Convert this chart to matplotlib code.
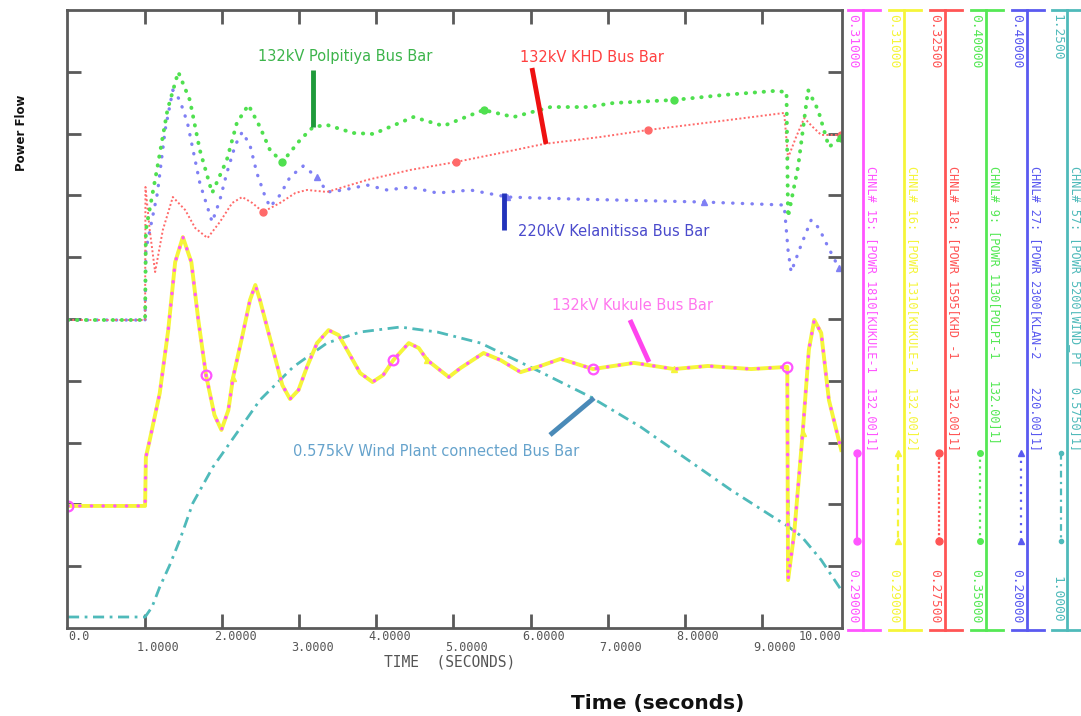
import numpy as np
import matplotlib.pyplot as plt

# channel traces: time (s) and power (pu)
t_kuk = [0.0, 1.0, 1.01, 1.06, 1.19, 1.30, 1.39, 1.49, 1.60, 1.69, 1.79, 1.90, 1.99, 2.08, 2.14,
         2.27, 2.36, 2.43, 2.49, 2.66, 2.78, 2.88, 2.99, 3.10, 3.23, 3.38, 3.51, 3.62, 3.79, 3.95,
         4.09, 4.22, 4.42, 4.55, 4.66, 4.94, 5.09, 5.39, 5.61, 5.87, 6.13, 6.39, 6.81, 7.34, 7.86,
         8.30, 8.86, 9.33, 9.34, 9.42, 9.53, 9.61, 9.68, 9.77, 9.87, 10.03]
p_kuk = [0.29395, 0.29395, 0.29553, 0.29608, 0.29760, 0.29964, 0.30184, 0.30265, 0.30184, 0.29997,
         0.29819, 0.29689, 0.29641, 0.29705, 0.29809, 0.29955, 0.30061, 0.30110, 0.30061, 0.29900,
         0.29786, 0.29741, 0.29770, 0.29845, 0.29922, 0.29964, 0.29948, 0.29900, 0.29825, 0.29796,
         0.29819, 0.29867, 0.29922, 0.29906, 0.29867, 0.29812, 0.29841, 0.29890, 0.29867, 0.29828,
         0.29848, 0.29871, 0.29838, 0.29858, 0.29838, 0.29848, 0.29838, 0.29845, 0.29155, 0.29307,
         0.29631, 0.29900, 0.29997, 0.29955, 0.29738, 0.29576]

t_pol = [0.0, 1.0, 1.01, 1.16, 1.29, 1.43, 1.58, 1.71, 1.87, 2.06, 2.19, 2.34, 2.49, 2.62, 2.78,
         3.01, 3.18, 3.36, 3.70, 3.96, 4.48, 4.87, 5.39, 5.78, 6.26, 6.74, 7.08, 7.86, 8.51, 9.16,
         9.32, 9.34, 9.47, 9.60, 9.73, 9.87, 10.03]
p_pol = [0.37492, 0.37492, 0.38220, 0.38730, 0.39191, 0.39499, 0.39272, 0.38867, 0.38520, 0.38787,
         0.39086, 0.39232, 0.39054, 0.38867, 0.38770, 0.38948, 0.39054, 0.39070, 0.39005, 0.38997,
         0.39134, 0.39062, 0.39191, 0.39134, 0.39215, 0.39215, 0.39248, 0.39272, 0.39313, 0.39345,
         0.39337, 0.38325, 0.38730, 0.39353, 0.39191, 0.38892, 0.38965]

t_khd = [0.0, 1.0, 1.005, 1.06, 1.13, 1.23, 1.36, 1.52, 1.65, 1.81, 1.97, 2.13, 2.26, 2.39, 2.53,
         2.75, 2.95, 3.10, 3.36, 3.88, 4.44, 5.03, 5.61, 6.17, 6.91, 7.52, 8.47, 9.29, 9.34, 9.44,
         9.55, 9.66, 9.77, 10.03]
p_khd = [0.29992, 0.29992, 0.31068, 0.30720, 0.30380, 0.30720, 0.30987, 0.30882, 0.30736, 0.30655,
         0.30785, 0.30939, 0.30987, 0.30939, 0.30866, 0.30939, 0.31020, 0.31044, 0.31028, 0.31125,
         0.31206, 0.31270, 0.31343, 0.31416, 0.31473, 0.31529, 0.31602, 0.31667, 0.31303, 0.31465,
         0.31626, 0.31554, 0.31489, 0.31489]

t_kel = [0.0, 1.0, 1.01, 1.16, 1.26, 1.36, 1.45, 1.55, 1.71, 1.87, 1.97, 2.06, 2.17, 2.26, 2.36,
         2.45, 2.55, 2.62, 2.75, 2.88, 3.05, 3.23, 3.36, 3.57, 3.88, 4.14, 4.44, 4.79, 5.22, 5.70,
         6.56, 8.25, 9.29, 9.34, 9.38, 9.51, 9.64, 9.74, 9.86, 10.0]
p_kel = [0.29967, 0.29967, 0.32232, 0.34077, 0.36115, 0.37410, 0.37086, 0.36342, 0.34400, 0.33138,
         0.33850, 0.34724, 0.35630, 0.36051, 0.35630, 0.34724, 0.34012, 0.33624, 0.34012, 0.34594,
         0.34950, 0.34594, 0.34109, 0.34174, 0.34335, 0.34174, 0.34271, 0.34077, 0.34174, 0.33947,
         0.33882, 0.33785, 0.33688, 0.32232, 0.31520, 0.32394, 0.33203, 0.32944, 0.32329, 0.31650]

t_wnd = [0.0, 1.0, 1.09, 1.19, 1.32, 1.45, 1.62, 1.88, 2.19, 2.49, 2.92, 3.36, 3.79, 4.31, 4.79,
         5.35, 6.13, 6.78, 7.43, 8.60, 9.33, 9.34, 9.35, 9.51, 9.77, 10.03]
p_wnd = [1.00445, 1.00445, 1.00849, 1.01658, 1.02548, 1.03560, 1.05056, 1.06512, 1.07888, 1.09223,
         1.10557, 1.11528, 1.11973, 1.12175, 1.11973, 1.11528, 1.10355, 1.09344, 1.08130, 1.05582,
         1.04126, 1.05178, 1.04085, 1.03721, 1.02751, 1.01537]

# legend strip: channel scales and names (kukule-1, kukule-2, khd, polpi, klan, wind)
chan_lo = [0.29, 0.29, 0.275, 0.35, 0.20, 1.0]
chan_hi = [0.31, 0.31, 0.325, 0.40, 0.40, 1.25]
lo_lbls = ['0.29000', '0.29000', '0.27500', '0.35000', '0.20000', '1.0000']
hi_lbls = ['0.31000', '0.31000', '0.32500', '0.40000', '0.40000', '1.2500']
chan_names = ['CHNL# 15: [POWR 1810[KUKULE-1  132.00]1]',
              'CHNL# 16: [POWR 1310[KUKULE-1  132.00]2]',
              'CHNL# 18: [POWR 1595[KHD -1    132.00]1]',
              'CHNL# 9: [POWR 1130[POLPI-1   132.00]1]',
              'CHNL# 27: [POWR 2300[KLAN-2    220.00]1]',
              'CHNL# 57: [POWR 5200[WIND_PT   0.5750]1]']
chan_colors = ['#ff55ff', '#f5f53a', '#ff5555', '#55e855', '#5a5af0', '#4fbaba']

xtick_vals = list(range(11))
xtick_lbls = ['0.0', '1.0000', '2.0000', '3.0000', '4.0000', '5.0000',
              '6.0000', '7.0000', '8.0000', '9.0000', '10.000']


def scaled(vals, i):
    # PSS/E plots every channel on its own scale over 10 grid divisions
    return (np.array(vals) - chan_lo[i]) / (chan_hi[i] - chan_lo[i]) * 10


W, H = 1081, 716
fig = plt.figure(figsize=(W / 100, H / 100), dpi=100)
fig.patch.set_facecolor('white')

ax = fig.add_axes([67 / W, 1 - 628 / H, 775 / W, 618 / H])
ax.set_xlim(-0.013, 10.04)
ax.set_ylim(0, 10)

dot = dict(dash_capstyle='round', solid_capstyle='round')
ax.plot(t_wnd, scaled(p_wnd, 5), color=chan_colors[5], lw=2, ls=(0, (4, 2, 1, 2)))
ax.plot(t_kel, scaled(p_kel, 4), color='#8080f4', lw=2.4, ls=(0, (0.1, 2.8)), **dot,
        marker='^', ms=5, markevery=[21, 29, 31, 39])
ax.plot(t_khd, scaled(p_khd, 2), color='#ff6a6a', lw=1.4, ls=(0, (1, 1.2)),
        marker='o', ms=5, markevery=[14, 21, 25, 33])
ax.plot(t_pol, scaled(p_pol, 3), color='#4fe04f', lw=2.8, ls=(0, (0.1, 2.2)), **dot,
        marker='o', ms=5, markevery=[14, 22, 27, 36])
ax.plot(t_kuk, scaled(p_kuk, 1), color=chan_colors[1], lw=2.8,
        marker='^', ms=5, markevery=[14, 34, 44, 50])
ax.plot(t_kuk, scaled(p_kuk, 0), color='#ff55ff', lw=2.4, ls=(0, (0.1, 3.4)), **dot,
        marker='o', ms=7, mfc='none', mew=1.6, markevery=[0, 10, 31, 42, 47])

for s in ax.spines.values():
    s.set_color('#5a5a5a')
    s.set_linewidth(2)
ax.set_xticks(range(1, 10))
ax.set_yticks(range(1, 10))
ax.tick_params(direction='in', length=10, width=2, color='#5a5a5a',
               top=True, right=True, labelbottom=False, labelleft=False)

mono = 'DejaVu Sans Mono'
xtr = ax.get_xaxis_transform()
for v, lbl in zip(xtick_vals, xtick_lbls):
    row = -0.013 if v % 2 == 0 else -0.031
    if v == 0:
        ax.text(v, row, lbl, transform=xtr, ha='left', va='center', fontsize=8.5,
                family=mono, color='#555555')
    elif v == 10:
        ax.text(10.03, row, lbl, transform=xtr, ha='right', va='center', fontsize=8.5,
                family=mono, color='#555555')
    else:
        ax.text(v - 0.11, row, lbl, transform=xtr, ha='left', va='center', fontsize=8.5,
                family=mono, color='#555555')

# overlay in pixel coordinates for labels, annotations and the legend strip
ov = fig.add_axes([0, 0, 1, 1])
ov.set_xlim(0, W)
ov.set_ylim(H, 0)
ov.axis('off')
ov.set_facecolor('none')

ov.text(450, 662, 'TIME  (SECONDS)', ha='center', va='center', fontsize=10.5,
        family=mono, color='#555555')
ov.text(658, 703, 'Time (seconds)', ha='center', va='center', fontsize=14.5,
        fontweight='heavy', family='DejaVu Sans', color='#111111')
ov.text(22, 133, 'Power Flow', ha='center', va='center', rotation=90, fontsize=8.5,
        fontweight='heavy', family='DejaVu Sans', color='#111111')

# bus bar call-outs
notes = [('132kV Polpitiya Bus Bar', 345, 57, '#3cb44b', (313, 70), (313, 127), '#1f9a3a'),
         ('132kV KHD Bus Bar', 592, 58, '#ff4040', (532, 68), (546, 144), '#ee1111'),
         ('220kV Kelanitissa Bus Bar', 614, 232, '#4a4acc', (504, 193), (504, 230), '#2233bb'),
         ('132kV Kukule Bus Bar', 632, 305, '#ff77ee', (630, 320), (649, 362), '#ff44ee'),
         ('0.575kV Wind Plant connected Bus Bar', 436, 452, '#66a3cc', (550, 435), (594, 398), '#4a8ab8')]
for txt, x, y, c, p0, p1, lc in notes:
    ov.text(x, y, txt, ha='center', va='center', fontsize=10.5, color=c)
    ov.plot([p0[0], p1[0]], [p0[1], p1[1]], color=lc, lw=3.5, solid_capstyle='butt')

# legend strip on the right
cols = [863, 904, 945, 986, 1027, 1067]
samp = [dict(ls='-', marker='o', ms=5), dict(ls=(0, (3, 2)), marker='^', ms=5),
        dict(ls=(0, (1, 1)), marker='o', ms=5), dict(ls=(0, (1, 2)), marker='o', ms=4),
        dict(ls=(0, (1, 2.5)), marker='^', ms=5), dict(ls=(0, (3, 2, 1, 2)), marker='o', ms=3)]
for i, cx in enumerate(cols):
    c = chan_colors[i]
    ov.plot([cx, cx], [10, 630], color=c, lw=2)
    ov.plot([cx - 15, cx + 13 if i == 5 else cx + 17], [10, 10], color=c, lw=2)
    ov.plot([cx - 15, cx + 13 if i == 5 else cx + 17], [630, 630], color=c, lw=2)
    ov.text(cx - 10, 14, hi_lbls[i], rotation=-90, ha='center', va='top',
            fontsize=9.3, family=mono, color=c)
    ov.text(cx - 10, 623, lo_lbls[i], rotation=-90, ha='center', va='bottom',
            fontsize=9.3, family=mono, color=c)
    ov.text(cx + 8, 166, chan_names[i], rotation=-90, ha='center', va='top',
            fontsize=8.6, family=mono, color=c)
    ov.plot([cx - 6, cx - 6], [453, 541], color=c, lw=1.6, markevery=[0, 1], **samp[i])

fig.savefig('out.png', dpi=100)
